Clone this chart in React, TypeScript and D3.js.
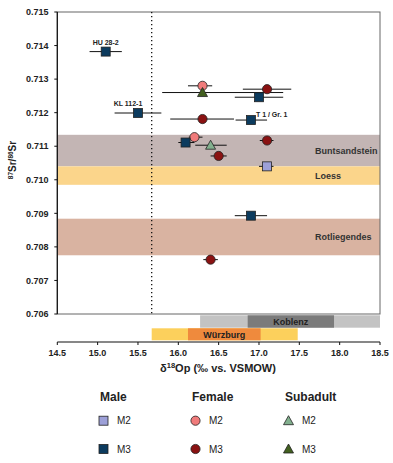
import React from 'react';
import * as d3 from 'd3';

// Sr isotope bands (87Sr/86Sr ranges)
const bandNames = ['Buntsandstein', 'Loess', 'Rotliegendes'];
const bandLow = [0.7104, 0.70985, 0.70775];
const bandHigh = [0.71134, 0.7104, 0.70884];
const bandColors = ['#c3b5b4', '#fbd58b', '#d9b3a1'];

// oxygen ranges below the plot
const koblenzOuter = [16.27, 18.5];
const koblenzInner = [16.86, 17.93];
const wuerzburgOuter = [15.67, 17.48];
const wuerzburgInner = [16.12, 17.02];
const drinkingWaterLimit = 15.67;

// samples
const sampleGroup = ['male', 'male', 'female', 'subadult', 'female', 'male', 'female', 'male',
  'female', 'male', 'subadult', 'female', 'female', 'male', 'male', 'female'];
const sampleTooth = ['M3', 'M3', 'M2', 'M3', 'M3', 'M3', 'M3', 'M3',
  'M2', 'M3', 'M2', 'M3', 'M3', 'M2', 'M3', 'M3'];
const sampleO = [15.1, 15.5, 16.3, 16.3, 17.1, 17.0, 16.3, 16.9,
  16.2, 16.09, 16.4, 17.1, 16.5, 17.1, 16.9, 16.4];
const sampleSr = [0.71382, 0.71199, 0.7128, 0.7126, 0.7127, 0.71246, 0.71181, 0.71178,
  0.71127, 0.71111, 0.71103, 0.71117, 0.71071, 0.7104, 0.70893, 0.70762];
const errLow = [14.9, 15.21, 16.12, 15.8, 16.8, 16.7, 15.9, 16.71,
  16.13, 16.0, 16.21, 17.01, 16.4, 17.0, 16.7, 16.31];
const errHigh = [15.3, 15.79, 16.42, 17.3, 17.4, 17.3, 16.69, 17.1,
  16.3, 16.2, 16.6, 17.18, 16.6, 17.18, 17.1, 16.49];
const sampleLabel = ['HU 28-2', 'KL 112-1', '', '', '', '', '', 'T 1 / Gr. 1',
  '', '', '', '', '', '', '', ''];

const xTicks = [14.5, 15.0, 15.5, 16.0, 16.5, 17.0, 17.5, 18.0, 18.5];
const yTicks = [0.706, 0.707, 0.708, 0.709, 0.71, 0.711, 0.712, 0.713, 0.714, 0.715];

const colors: Record<string, string> = {
  'male-M2': '#9da0d8',
  'male-M3': '#0c3b5e',
  'female-M2': '#f07b7b',
  'female-M3': '#8a1212',
  'subadult-M2': '#82b08e',
  'subadult-M3': '#42601f',
};

const font = 'Liberation Sans, Arial, sans-serif';

const Marker = ({ group, tooth, x, y }: { group: string; tooth: string; x: number; y: number }) => {
  const fill = colors[`${group}-${tooth}`];
  if (group === 'male') {
    return <rect x={x - 4.5} y={y - 4.5} width={9} height={9} fill={fill} stroke="#222" strokeWidth={0.8} />;
  }
  if (group === 'female') {
    return <circle cx={x} cy={y} r={4.6} fill={fill} stroke="#222" strokeWidth={0.8} />;
  }
  return <path d={`M${x},${y - 5} L${x + 5},${y + 4} L${x - 5},${y + 4} Z`} fill={fill} stroke="#222" strokeWidth={0.8} />;
};

const App: React.FC = () => {
  const width = 393;
  const height = 463;

  const x = d3.scaleLinear().domain([14.5, 18.5]).range([57.3, 380]);
  const y = d3.scaleLinear().domain([0.706, 0.715]).range([314, 12]);
  const axisY = 342;

  const fmtY = d3.format('.3f');
  const fmtX = d3.format('.1f');

  // label offsets relative to the marker
  const labelDx = [0, -10, 0, 0, 0, 0, 0, 5];
  const labelDy = [-7, -7, 0, 0, 0, 0, 0, -3];

  const legendCols = [
    { name: 'Male', group: 'male', x: 100 },
    { name: 'Female', group: 'female', x: 192 },
    { name: 'Subadult', group: 'subadult', x: 285 },
  ];

  return (
    <svg width={width} height={height} style={{ position: 'absolute', left: 0, top: 0, background: '#fff' }} fontFamily={font}>
      {/* geological bands */}
      {bandNames.map((name, i) => (
        <g key={name}>
          <rect x={x(14.5)} width={x(18.5) - x(14.5)} y={y(bandHigh[i])} height={y(bandLow[i]) - y(bandHigh[i])} fill={bandColors[i]} />
          <text x={315} y={(y(bandHigh[i]) + y(bandLow[i])) / 2 + 3} fontSize={9} fontWeight="bold" fill="#333">{name}</text>
        </g>
      ))}

      {/* frame */}
      <rect x={x(14.5)} y={y(0.715)} width={x(18.5) - x(14.5)} height={y(0.706) - y(0.715)} fill="none" stroke="#666" strokeWidth={1} />
      <line x1={x(14.5)} x2={x(14.5)} y1={y(0.715)} y2={y(0.706)} stroke="#111" strokeWidth={1.2} />

      {/* dotted line */}
      <line x1={x(drinkingWaterLimit)} x2={x(drinkingWaterLimit)} y1={y(0.715)} y2={y(0.706)} stroke="#111" strokeWidth={1.3} strokeDasharray="1.3,2.7" />

      {/* y axis */}
      {yTicks.map((t) => (
        <g key={t}>
          <line x1={x(14.5) - 3} x2={x(14.5)} y1={y(t)} y2={y(t)} stroke="#111" />
          <text x={48.5} y={y(t) + 3.2} textAnchor="end" fontSize={9} fontWeight="bold" fill="#222">{fmtY(t)}</text>
        </g>
      ))}
      <text transform={`translate(16,160) rotate(-90)`} textAnchor="middle" fontSize={10} fontWeight="bold" fill="#222">
        <tspan fontSize={6.5} dy={-3.5}>87</tspan>
        <tspan dy={3.5}>Sr/</tspan>
        <tspan fontSize={6.5} dy={-3.5}>86</tspan>
        <tspan dy={3.5}>Sr</tspan>
      </text>

      {/* error bars and markers */}
      {sampleO.map((o, i) => (
        <line key={`e${i}`} x1={x(errLow[i])} x2={x(errHigh[i])} y1={y(sampleSr[i])} y2={y(sampleSr[i])} stroke="#111" strokeWidth={1} />
      ))}
      {sampleO.map((o, i) => (
        <Marker key={`m${i}`} group={sampleGroup[i]} tooth={sampleTooth[i]} x={x(o)} y={y(sampleSr[i])} />
      ))}
      {sampleLabel.map((l, i) => l && (
        <text key={`l${i}`}
          x={x(sampleO[i]) + labelDx[i]}
          y={y(sampleSr[i]) + labelDy[i]}
          textAnchor={i === 7 ? 'start' : 'middle'} fontSize={7} fontWeight="bold" fill="#222">{l}</text>
      ))}

      {/* Koblenz range */}
      <rect x={x(koblenzOuter[0])} width={x(koblenzOuter[1]) - x(koblenzOuter[0])} y={315.3} height={12.4} fill="#c3c3c3" />
      <rect x={x(koblenzInner[0])} width={x(koblenzInner[1]) - x(koblenzInner[0])} y={315.3} height={12.4} fill="#7b7b7b" />
      <text x={(x(koblenzInner[0]) + x(koblenzInner[1])) / 2} y={324.8} textAnchor="middle" fontSize={9} fontWeight="bold" fill="#222">Koblenz</text>

      {/* Würzburg range */}
      <rect x={x(wuerzburgOuter[0])} width={x(wuerzburgOuter[1]) - x(wuerzburgOuter[0])} y={328.3} height={12} fill="#fcd05c" />
      <rect x={x(wuerzburgInner[0])} width={x(wuerzburgInner[1]) - x(wuerzburgInner[0])} y={328.3} height={12} fill="#ef8a3d" />
      <text x={(x(wuerzburgInner[0]) + x(wuerzburgInner[1])) / 2} y={337.6} textAnchor="middle" fontSize={9} fontWeight="bold" fill="#222">Würzburg</text>

      {/* x axis */}
      <line x1={x(14.5)} x2={x(18.5)} y1={axisY} y2={axisY} stroke="#111" strokeWidth={1.2} />
      {xTicks.map((t) => (
        <g key={t}>
          <line x1={x(t)} x2={x(t)} y1={axisY} y2={axisY + 3} stroke="#111" />
          <text x={x(t)} y={axisY + 13.5} textAnchor="middle" fontSize={9} fontWeight="bold" fill="#222">{fmtX(t)}</text>
        </g>
      ))}
      <text x={218} y={372} textAnchor="middle" fontSize={11} fontWeight="bold" fill="#222">
        δ<tspan fontSize={7.5} dy={-4}>18</tspan><tspan dy={4}>Op (‰ vs. VSMOW)</tspan>
      </text>

      {/* legend */}
      {legendCols.map((c) => (
        <g key={c.name}>
          <text x={c.x} y={401} fontSize={12} fontWeight="bold" fill="#222">{c.name}</text>
          {['M2', 'M3'].map((tooth, j) => {
            const cy = j === 0 ? 420.7 : 449;
            return (
              <g key={tooth}>
                <Marker group={c.group} tooth={tooth} x={c.x + 3.5} y={cy} />
                <text x={c.x + 17} y={cy + 3.5} fontSize={10} fill="#222">{tooth}</text>
              </g>
            );
          })}
        </g>
      ))}
    </svg>
  );
};

export default App;
